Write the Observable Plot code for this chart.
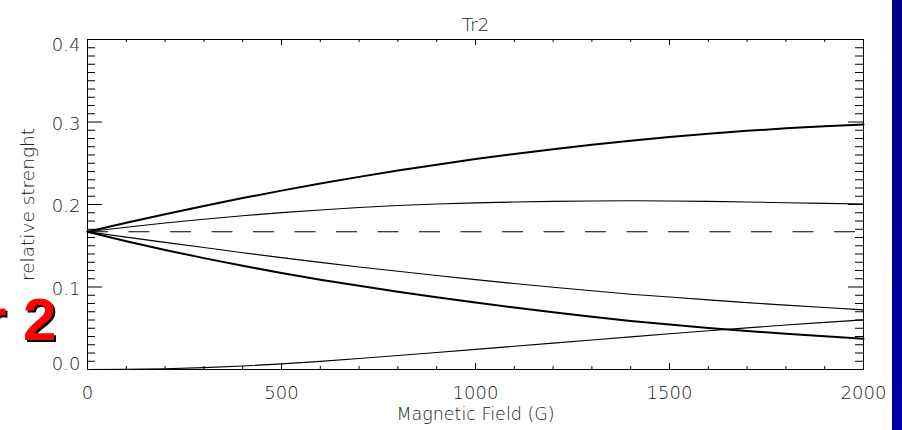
<!DOCTYPE html>
<html>
<head>
<meta charset="utf-8">
<script src="https://cdn.jsdelivr.net/npm/d3@7"></script>
<script src="https://cdn.jsdelivr.net/npm/@observablehq/plot@0.6"></script>
<style>
  html, body { margin: 0; padding: 0; background: #fff; }
  body { width: 902px; height: 430px; overflow: hidden; position: relative; }
  #chart { position: absolute; left: 0; top: 0; }
  #slide-text { position: absolute; left: -17px; top: 290px; font: bold 60px "Liberation Sans", Arial, sans-serif; line-height: 60px; color: #ff0000; text-shadow: 2px 2px 0 #000; white-space: pre; }
  #bar { position: absolute; left: 892px; top: 0; width: 10px; height: 430px; background: linear-gradient(#000088, #0000a6); }
</style>
</head>
<body>
<div id="chart"></div>
<div id="slide-text">r 2</div>
<div id="bar"></div>
<script>
// ---- data ----
const field = [0,100,200,300,400,500,600,700,800,900,1000,1100,1200,1300,1400,1500,1600,1700,1800,1900,2000];
const thickUpper = [0.1670,0.1779,0.1883,0.1983,0.2078,0.2168,0.2254,0.2335,0.2411,0.2483,0.2551,0.2613,0.2671,0.2725,0.2774,0.2818,0.2858,0.2893,0.2923,0.2949,0.2970];
const thinUpper  = [0.1670,0.1725,0.1775,0.1822,0.1864,0.1901,0.1934,0.1963,0.1987,0.2006,0.2020,0.2030,0.2038,0.2043,0.2045,0.2043,0.2038,0.2030,0.2022,0.2014,0.2006];
const thinLower  = [0.1670,0.1605,0.1541,0.1478,0.1416,0.1356,0.1298,0.1243,0.1190,0.1139,0.1089,0.1042,0.0997,0.0954,0.0913,0.0878,0.0844,0.0811,0.0780,0.0751,0.0723];
const thickLower = [0.1670,0.1555,0.1449,0.1350,0.1257,0.1170,0.1089,0.1014,0.0943,0.0876,0.0812,0.0751,0.0693,0.0638,0.0588,0.0544,0.0504,0.0467,0.0433,0.0402,0.0373];
const thinBottom = [0.0000,0.0002,0.0010,0.0023,0.0043,0.0068,0.0099,0.0133,0.0169,0.0206,0.0244,0.0282,0.0320,0.0358,0.0396,0.0433,0.0470,0.0505,0.0539,0.0571,0.0602];
const dashLevel = [0.167];

const xTicks = [0,500,1000,1500,2000];
const xTickLabels = ["0","500","1000","1500","2000"];
const yTicks = [0,0.1,0.2,0.3,0.4];
const yTickLabels = ["0.0","0.1","0.2","0.3","0.4"];
const title = "Tr2";
const xTitle = "Magnetic Field (G)";
const yTitle = "relative strenght";

// ---- layout ----
const W = 902, H = 430, mL = 87, mR = 39, mT = 39, mB = 61;
const pw = W - mL - mR, ph = H - mT - mB;

const rows = (vals) => field.map((b, i) => ({b, v: vals[i]}));
const xMinor = d3.range(0, 2001, 100).filter(d => d % 500 !== 0);
const yMinor = d3.range(0, 41, 1).filter(d => d % 10 !== 0).map(d => d / 100);
const yFmt = d => yTickLabels[yTicks.indexOf(d)];
const xFmt = d => xTickLabels[xTicks.indexOf(d)];

const chart = Plot.plot({
  width: W, height: H,
  marginLeft: mL, marginRight: mR, marginTop: mT, marginBottom: mB,
  style: {fontFamily: "DejaVu Sans", fontSize: "18px", fontWeight: 200, color: "#222", background: "transparent"},
  x: {domain: [0, 2000]},
  y: {domain: [0, 0.4]},
  marks: [
    Plot.frame({stroke: "black", strokeWidth: 1}),
    // inward ticks (IDL style)
    Plot.tickY(yMinor, {y: d => d, insetRight: pw - 8, stroke: "black"}),
    Plot.tickY(yTicks, {y: d => d, insetRight: pw - 15, stroke: "black"}),
    Plot.tickY(yMinor, {y: d => d, insetLeft: pw - 8, stroke: "black"}),
    Plot.tickY(yTicks, {y: d => d, insetLeft: pw - 15, stroke: "black"}),
    Plot.tickX(xMinor, {x: d => d, insetTop: ph - 3, stroke: "black"}),
    Plot.tickX(xTicks, {x: d => d, insetTop: ph - 6, stroke: "black"}),
    Plot.tickX(xMinor, {x: d => d, insetBottom: ph - 3, stroke: "black"}),
    Plot.tickX(xTicks, {x: d => d, insetBottom: ph - 6, stroke: "black"}),
    Plot.axisX({ticks: xTicks, tickSize: 0, tickPadding: 17, tickFormat: xFmt, label: null}),
    Plot.axisY({ticks: yTicks.slice(0, 1), tickSize: 0, tickPadding: 7, dy: -5, tickFormat: yFmt, label: null}),
    Plot.axisY({ticks: yTicks.slice(1, 4), tickSize: 0, tickPadding: 7, dy: 2, tickFormat: yFmt, label: null}),
    Plot.axisY({ticks: yTicks.slice(4), tickSize: 0, tickPadding: 7, dy: 6, tickFormat: yFmt, label: null}),
    Plot.ruleY(dashLevel, {stroke: "black", strokeWidth: 1.1, strokeDasharray: "21,20.5"}),
    Plot.line(rows(thickUpper), {x: "b", y: "v", stroke: "black", strokeWidth: 2}),
    Plot.line(rows(thinUpper), {x: "b", y: "v", stroke: "black", strokeWidth: 1.1}),
    Plot.line(rows(thinLower), {x: "b", y: "v", stroke: "black", strokeWidth: 1.1}),
    Plot.line(rows(thickLower), {x: "b", y: "v", stroke: "black", strokeWidth: 2}),
    Plot.line(rows(thinBottom), {x: "b", y: "v", stroke: "black", strokeWidth: 1.1}),
    Plot.text([title], {text: d => d, frameAnchor: "top", dy: -21, fontSize: 18}),
    Plot.text([xTitle], {text: d => d, frameAnchor: "bottom", dy: 50, fontSize: 17.5}),
    Plot.text([yTitle], {text: d => d, frameAnchor: "left", textAnchor: "middle", dx: -59, rotate: -90, fontSize: 18.5})
  ]
});
document.getElementById("chart").appendChild(chart);
</script>
</body>
</html>
